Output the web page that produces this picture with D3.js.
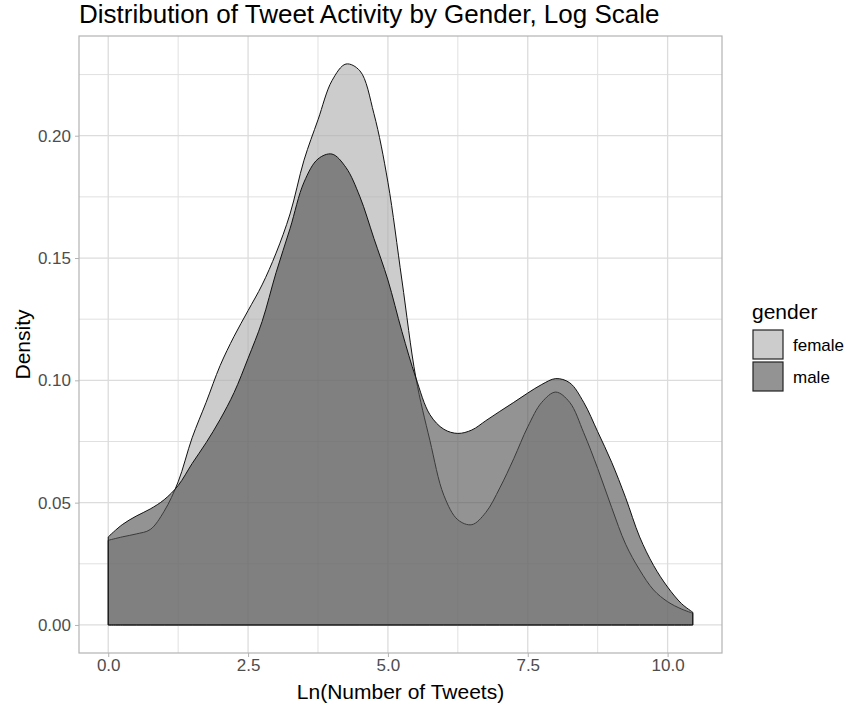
<!DOCTYPE html>
<html>
<head>
<meta charset="utf-8">
<script src="https://cdn.jsdelivr.net/npm/d3@7"></script>
<style>
  body { margin: 0; background: #fff; }
  text { font-family: "Liberation Sans", Arial, sans-serif; }
</style>
</head>
<body>
<div id="chart"></div>
<script>
// values
var groups = ["female", "male"];
var xPoints = [0, 0.25, 0.5, 0.75, 1.0, 1.25, 1.5, 1.75, 2.0, 2.25, 2.5, 2.75, 3.0, 3.25, 3.5, 3.75,
  4.0, 4.25, 4.5, 4.75, 5.0, 5.25, 5.5, 5.75, 6.0, 6.25, 6.5, 6.75, 7.0, 7.25, 7.5, 7.75,
  8.0, 8.25, 8.5, 8.75, 9.0, 9.25, 9.5, 9.75, 10.0, 10.25, 10.45];
var femaleDensity = [0.0346, 0.036, 0.0372, 0.039, 0.0465, 0.0585, 0.0765, 0.091, 0.106, 0.118, 0.1285, 0.139, 0.152, 0.168, 0.190, 0.2065,
  0.2225, 0.2293, 0.2265, 0.209, 0.181, 0.141, 0.101, 0.0755, 0.053, 0.043, 0.041, 0.046, 0.056, 0.068, 0.081, 0.091,
  0.0952, 0.091, 0.0786, 0.064, 0.048, 0.033, 0.0225, 0.0143, 0.0095, 0.0065, 0.0048];
var maleDensity = [0.036, 0.041, 0.0445, 0.0474, 0.0512, 0.057, 0.066, 0.0745, 0.084, 0.095, 0.109, 0.124, 0.144, 0.162, 0.181, 0.1905,
  0.1925, 0.187, 0.175, 0.158, 0.141, 0.120, 0.101, 0.086, 0.080, 0.0783, 0.0797, 0.0835, 0.0873, 0.091, 0.0948, 0.0983,
  0.1007, 0.099, 0.091, 0.079, 0.0665, 0.052, 0.036, 0.0243, 0.0155, 0.0087, 0.0052];
var xTicks = [0, 2.5, 5, 7.5, 10];
var xMinor = [1.25, 3.75, 6.25, 8.75];
var yTicks = [0, 0.05, 0.10, 0.15, 0.20];
var yMinor = [0.025, 0.075, 0.125, 0.175, 0.225];

var W = 849, H = 711;
var margin = {top: 36, right: 127, bottom: 58, left: 79},
    width = W - margin.left - margin.right,
    height = H - margin.top - margin.bottom;

var svg = d3.select("#chart")
  .append("svg")
    .attr("width", W)
    .attr("height", H);

var g = svg.append("g")
    .attr("transform", "translate(" + margin.left + "," + margin.top + ")");

// ggplot style 5% expansion
var xMax = d3.max(xPoints), yMax = d3.max(femaleDensity.concat(maleDensity));
var xScale = d3.scaleLinear()
  .domain([-0.05 * xMax, 1.05 * xMax])
  .range([0, width]);
var yScale = d3.scaleLinear()
  .domain([-0.05 * yMax, 1.05 * yMax])
  .range([height, 0]);

// grid
g.selectAll(".xminor").data(xMinor).enter().append("line")
  .attr("x1", function(d) { return xScale(d); }).attr("x2", function(d) { return xScale(d); })
  .attr("y1", 0).attr("y2", height)
  .style("stroke", "#e0e0e0").style("stroke-width", 1);
g.selectAll(".yminor").data(yMinor).enter().append("line")
  .attr("y1", function(d) { return yScale(d); }).attr("y2", function(d) { return yScale(d); })
  .attr("x1", 0).attr("x2", width)
  .style("stroke", "#e0e0e0").style("stroke-width", 1);
g.selectAll(".xmajor").data(xTicks).enter().append("line")
  .attr("x1", function(d) { return xScale(d); }).attr("x2", function(d) { return xScale(d); })
  .attr("y1", 0).attr("y2", height)
  .style("stroke", "#dcdcdc").style("stroke-width", 1.3);
g.selectAll(".ymajor").data(yTicks).enter().append("line")
  .attr("y1", function(d) { return yScale(d); }).attr("y2", function(d) { return yScale(d); })
  .attr("x1", 0).attr("x2", width)
  .style("stroke", "#dcdcdc").style("stroke-width", 1.3);

// density areas, female first then male
var fills = {female: "rgba(174,174,174,0.627)", male: "rgba(83,83,83,0.627)"};
var series = {female: femaleDensity, male: maleDensity};

var area = d3.area()
  .x(function(d) { return xScale(d[0]); })
  .y0(yScale(0))
  .y1(function(d) { return yScale(d[1]); })
  .curve(d3.curveCatmullRom.alpha(0.5));

groups.forEach(function(k) {
  var pts = xPoints.map(function(x, i) { return [x, series[k][i]]; });
  g.append("path")
    .datum(pts)
    .attr("d", area)
    .style("fill", fills[k])
    .style("stroke", "#111")
    .style("stroke-width", 1)
    .style("stroke-linejoin", "round");
});

// panel border
g.append("rect")
  .attr("x", 0).attr("y", 0)
  .attr("width", width).attr("height", height)
  .style("fill", "none")
  .style("stroke", "#b3b3b3")
  .style("stroke-width", 1.2);

// axes
var xAxis = g.append("g")
  .attr("transform", "translate(0," + height + ")")
  .call(d3.axisBottom(xScale).tickValues(xTicks).tickFormat(d3.format(".1f")).tickSizeOuter(0).tickSize(4).tickPadding(2));
var yAxis = g.append("g")
  .call(d3.axisLeft(yScale).tickValues(yTicks).tickFormat(d3.format(".2f")).tickSizeOuter(0).tickSize(4).tickPadding(4));
[xAxis, yAxis].forEach(function(a) {
  a.select(".domain").remove();
  a.selectAll("line").style("stroke", "#b3b3b3");
  a.selectAll("text")
    .style("font-family", "Liberation Sans, Arial, sans-serif")
    .style("font-size", "17px")
    .style("fill", "#4d4d4d");
});

// titles
svg.append("text")
  .attr("x", margin.left)
  .attr("y", 23)
  .style("font-size", "26px")
  .style("fill", "#000")
  .text("Distribution of Tweet Activity by Gender, Log Scale");

svg.append("text")
  .attr("x", margin.left + width / 2)
  .attr("y", 699)
  .attr("text-anchor", "middle")
  .style("font-size", "21px")
  .style("fill", "#000")
  .text("Ln(Number of Tweets)");

svg.append("text")
  .attr("transform", "rotate(-90)")
  .attr("x", -(margin.top + height / 2))
  .attr("y", 30)
  .attr("text-anchor", "middle")
  .style("font-size", "21px")
  .style("fill", "#000")
  .text("Density");

// legend
var legend = svg.append("g").attr("transform", "translate(752,0)");
legend.append("text")
  .attr("x", 0)
  .attr("y", 319)
  .style("font-size", "21px")
  .style("fill", "#000")
  .text("gender");
var legendFill = {female: "#cccccc", male: "#939393"};
groups.forEach(function(k, i) {
  legend.append("rect")
    .attr("x", 1)
    .attr("y", 330 + i * 32)
    .attr("width", 30)
    .attr("height", 29)
    .style("fill", legendFill[k])
    .style("stroke", "#222")
    .style("stroke-width", 1.2);
  legend.append("text")
    .attr("x", 41)
    .attr("y", 345 + i * 32)
    .attr("dy", "0.35em")
    .style("font-size", "17px")
    .style("fill", "#000")
    .text(k);
});
</script>
</body>
</html>
